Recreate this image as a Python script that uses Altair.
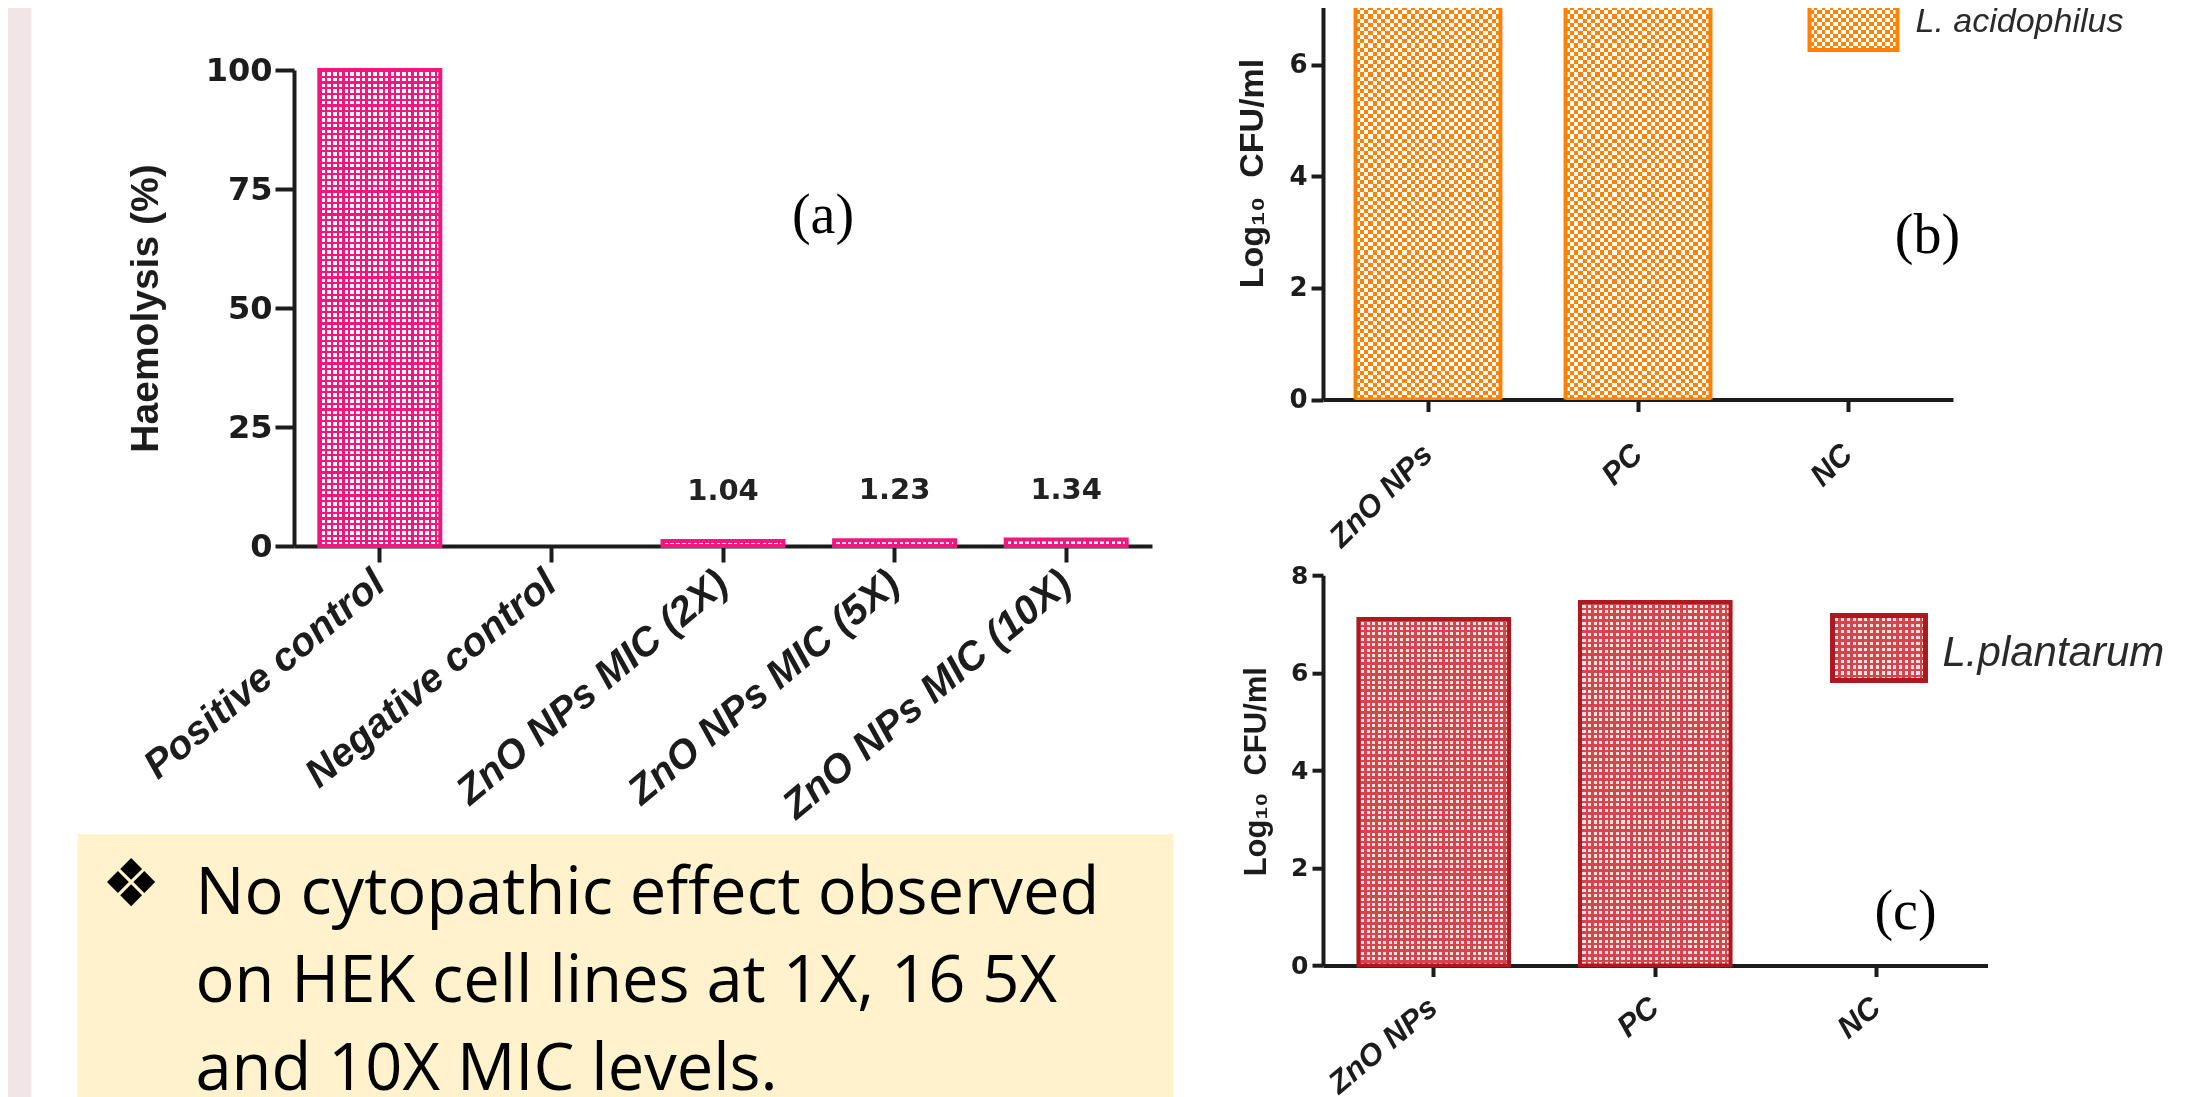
import altair as alt
import pandas as pd

# ---------------- data ----------------
a_categories = ["Positive control", "Negative control", "ZnO NPs MIC (2X)",
                "ZnO NPs MIC (5X)", "ZnO NPs MIC (10X)"]
a_values = [100, 0, 1.04, 1.23, 1.34]
a_ticks = [0, 25, 50, 75, 100]

b_categories = ["ZnO NPs", "PC", "NC"]
b_values = [7.35, 7.55, 0]
b_ticks = [0, 2, 4, 6]
b_series = ["L. acidophilus"]

c_categories = ["ZnO NPs", "PC", "NC"]
c_values = [7.1, 7.45, 0]
c_ticks = [0, 2, 4, 6, 8]
c_series = ["L.plantarum"]

note_lines = ["No cytopathic effect observed",
              "on HEK cell lines at 1X, 16 5X",
              "and 10X MIC levels."]

# ---------------- styles ----------------
PINK = "#F0187F"
ORANGE = "#FF8200"
DRED = "#B01820"
CRED = "#D4464E"
CCELL = "#FBE2E2"
INK = "#1c1c1c"
CLEAR = "rgba(255,255,255,0)"


def stripes(c_on, c_off, n, duty, axis):
    stops = []
    for i in range(n):
        a = round(i / n, 6)
        b = round((i + duty) / n, 6)
        e = round((i + 1) / n, 6)
        stops += [alt.GradientStop(offset=a, color=c_on),
                  alt.GradientStop(offset=b, color=c_on),
                  alt.GradientStop(offset=b, color=c_off),
                  alt.GradientStop(offset=e, color=c_off)]
    if axis == "x":
        return alt.Gradient(gradient="linear", stops=stops, x1=0, x2=1, y1=0, y2=0)
    return alt.Gradient(gradient="linear", stops=stops, x1=0, x2=0, y1=0, y2=1)


one = pd.DataFrame({"k": [0]})


def deco_rect(x1, x2, y1, y2, **kw):
    return alt.Chart(one).mark_rect(**kw).encode(
        x=alt.value(x1), x2=alt.value(x2), y=alt.value(y1), y2=alt.value(y2))


def deco_text(txt, x, y, **kw):
    return alt.Chart(one).mark_text(text=txt, **kw).encode(x=alt.value(x), y=alt.value(y))


def x_axis(angle, size, pad, tick):
    return alt.Axis(title=None, labelAngle=angle, labelAlign="right", labelBaseline="middle",
                    labelFont="Liberation Sans", labelFontWeight="bold", labelFontStyle="italic",
                    labelFontSize=size, labelColor=INK, labelPadding=pad, labelLimit=2000,
                    tickSize=tick, tickWidth=4, tickColor=INK, domainWidth=4, domainColor=INK,
                    grid=False)


def y_axis(values, title, tsize, tx, ty, lsize, tick, lpad):
    return alt.Axis(values=values, title=title, titleFont="Liberation Sans", titleFontWeight="bold",
                    titleFontSize=tsize, titleColor=INK, titleX=tx, titleY=ty, titleAngle=-90,
                    titleAlign="center", titleBaseline="middle",
                    labelFont="DejaVu Sans", labelFontWeight="bold", labelFontSize=lsize,
                    labelColor=INK, labelPadding=lpad, tickSize=tick, tickWidth=4, tickColor=INK,
                    domainWidth=4, domainColor=INK, grid=False)


# ---------------- panel (a) ----------------
a_df = pd.DataFrame({"category": a_categories, "value": a_values})
xa = alt.X("category:N", sort=a_categories,
           scale=alt.Scale(domain=a_categories, paddingInner=0.295, paddingOuter=0.1475),
           axis=x_axis(-40, 40, 16, 16))
ya = alt.Y("value:Q", scale=alt.Scale(domain=[0, 100], range=[544, 68], nice=False),
           axis=y_axis(a_ticks, "Haemolysis (%)", 39, -148.5, 306, 32, 19, 3))

a_base = alt.Chart(a_df).transform_filter("datum.value > 0").mark_bar(
    fill=stripes(PINK, "#FFFFFF", 21, 0.38, "x")).encode(x=xa, y=ya)
a_over = alt.Chart(a_df).transform_filter("datum.value > 10").mark_bar(
    fill=stripes(PINK, CLEAR, 83, 0.38, "y")).encode(x=xa, y=ya)
a_edge = alt.Chart(a_df).transform_filter("datum.value > 0").mark_bar(
    fillOpacity=0, stroke=PINK, strokeWidth=4).encode(x=xa, y=ya)
a_vals = alt.Chart(a_df).transform_filter("datum.value > 0 && datum.value < 50").mark_text(
    font="DejaVu Sans", fontWeight="bold", fontSize=29, dy=-50, baseline="middle",
    color="#222222").encode(x=xa, y=ya, text=alt.Text("value:Q", format=".2f"))

strip = deco_rect(-293.5, -262.5, 0, 1200, fill="#F2E5E8")
box = deco_rect(-216.5, 879.5, 832, 1200, fill="#FFF2CC")
bullet = deco_text("❖", -163, 884, font="DejaVu Sans", fontSize=66, align="center",
                   baseline="middle", color="#000000")
notes = deco_text(note_lines, -98.5, 912, font="Open Sans", fontSize=65, align="left",
                  baseline="alphabetic", lineHeight=88, color="#000000")
a_tag = deco_text("(a)", 529, 214, font="Liberation Serif", fontSize=56, align="center",
                  baseline="middle", color="#000000")

panel_a = alt.layer(strip, box, bullet, notes, a_tag, a_base, a_over, a_edge, a_vals).properties(
    width=858, height=544)

# ---------------- panel (b) ----------------
# checkerboard: black/white stripes XOR-ed with a difference blend, then tinted with screen
b_df = pd.DataFrame({"category": b_categories, "value": b_values})
xb = alt.X("category:N", sort=b_categories,
           scale=alt.Scale(domain=b_categories, paddingInner=0.31, paddingOuter=0.155),
           axis=x_axis(-45, 31, 38, 12))
yb = alt.Y("value:Q", scale=alt.Scale(domain=[0, 7.124], nice=False, clamp=True),
           axis=y_axis(b_ticks, "Log₁₀\u00a0 CFU/ml", 34, -70.5, 171, 26, 12, 4))

b_bars = alt.Chart(b_df).transform_filter("datum.value > 0")
b_base = b_bars.mark_bar(fill=stripes("#000000", "#FFFFFF", 17, 0.5, "x")).encode(x=xb, y=yb)
b_over = b_bars.mark_bar(blend="difference",
                         fill=stripes("#000000", "#FFFFFF", 48, 0.5, "y")).encode(x=xb, y=yb)
b_tint = b_bars.mark_bar(blend="screen", fill=ORANGE).encode(x=xb, y=yb)
b_edge = b_bars.mark_bar(clip=True, fillOpacity=0, stroke=ORANGE, strokeWidth=4).encode(x=xb, y=yb)

b_lg1 = deco_rect(486.5, 574.5, 0, 48, fill=stripes("#000000", "#FFFFFF", 11, 0.5, "x"))
b_lg2 = deco_rect(486.5, 574.5, 0, 48, blend="difference",
                  fill=stripes("#000000", "#FFFFFF", 6, 0.5, "y"))
b_lg3 = deco_rect(486.5, 574.5, 0, 48, blend="screen", fill=ORANGE)
b_lg4 = deco_rect(486.5, 574.5, 0, 48, fillOpacity=0, stroke=ORANGE, strokeWidth=4)
b_lgt = alt.Chart(pd.DataFrame({"series": b_series})).mark_text(
    align="left", baseline="alphabetic", font="Liberation Sans", fontStyle="italic",
    fontSize=34, color="#2a2a2a").encode(x=alt.value(592.5), y=alt.value(30), text="series:N")
b_tag = deco_text("(b)", 604.5, 234, font="Liberation Serif", fontSize=56, align="center",
                  baseline="middle", color="#000000")

panel_b = alt.layer(b_base, b_over, b_tint, b_edge, b_lg1, b_lg2, b_lg3, b_lg4, b_lgt,
                    b_tag).properties(width=630, height=397.5)

# ---------------- panel (c) ----------------
c_df = pd.DataFrame({"category": c_categories, "value": c_values})
xc = alt.X("category:N", sort=c_categories,
           scale=alt.Scale(domain=c_categories, paddingInner=0.32, paddingOuter=0.16),
           axis=x_axis(-40, 31, 27, 11))
yc = alt.Y("value:Q", scale=alt.Scale(domain=[0, 8], nice=False),
           axis=y_axis(c_ticks, "Log₁₀\u00a0 CFU/ml", 31, -67, 196, 25, 11, 4))

c_base = alt.Chart(c_df).transform_filter("datum.value > 0").mark_bar(
    fill=stripes(CRED, CCELL, 27, 0.45, "x")).encode(x=xc, y=yc)
c_over = alt.Chart(c_df).transform_filter("datum.value > 0").mark_bar(
    fill=stripes(CRED, CLEAR, 64, 0.45, "y")).encode(x=xc, y=yc)
c_edge = alt.Chart(c_df).transform_filter("datum.value > 0").mark_bar(
    fillOpacity=0, stroke=DRED, strokeWidth=4).encode(x=xc, y=yc)

c_lg1 = deco_rect(509.5, 602.5, 40.3, 105.3, fill=stripes(CRED, CCELL, 16, 0.45, "x"))
c_lg2 = deco_rect(509.5, 602.5, 40.3, 105.3, fill=stripes(CRED, CLEAR, 11, 0.45, "y"))
c_lg3 = deco_rect(509.5, 602.5, 40.3, 105.3, fillOpacity=0, stroke=DRED, strokeWidth=5)
c_lgt = alt.Chart(pd.DataFrame({"series": c_series})).mark_text(
    align="left", baseline="alphabetic", font="Liberation Sans", fontStyle="italic",
    fontSize=42, color="#2a2a2a").encode(x=alt.value(619.5), y=alt.value(90.3), text="series:N")
c_tag = deco_text("(c)", 582.5, 336.3, font="Liberation Serif", fontSize=56, align="center",
                  baseline="middle", color="#000000")

panel_c = alt.layer(c_base, c_over, c_edge, c_lg1, c_lg2, c_lg3, c_lgt, c_tag).properties(
    width=664.5, height=390.3)

# ---------------- layout ----------------
right_col = alt.vconcat(panel_b, panel_c, spacing=175.2, bounds="flush")
chart = alt.hconcat(panel_a, right_col, spacing=171, bounds="flush").properties(
    padding={"left": -8, "top": -8, "right": 0, "bottom": 0}
).configure_view(stroke=None)

chart.save("out.html", embed_options={"renderer": "svg", "actions": False})
